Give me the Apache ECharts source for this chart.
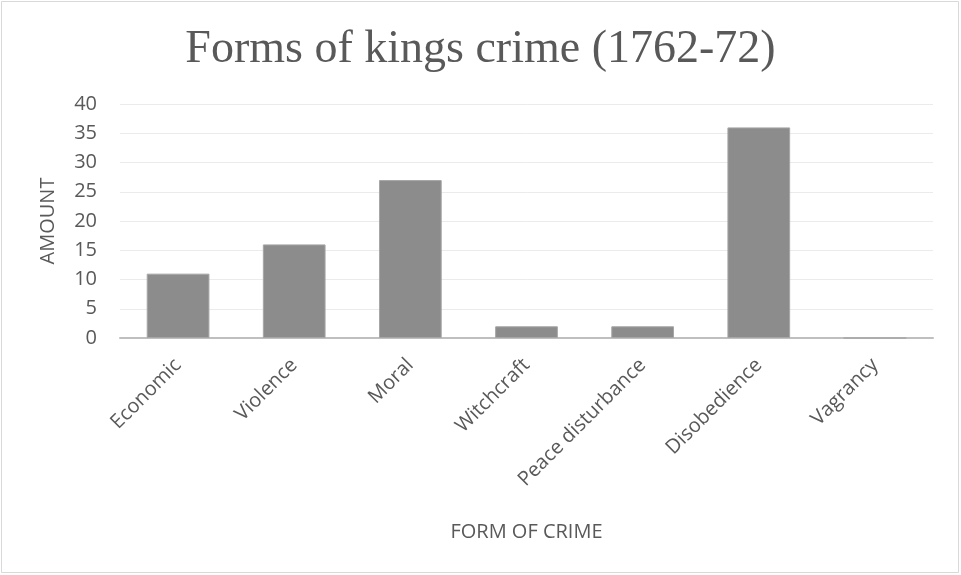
<!DOCTYPE html>
<html><head><meta charset="utf-8">
<script src="https://cdn.jsdelivr.net/npm/echarts@6/dist/echarts.min.js"></script>
<style>html,body{margin:0;padding:0;background:#fff}#c{width:961px;height:575px}</style>
</head><body><div id="c"></div>
<script>
const categories = ["Economic","Violence","Moral","Witchcraft","Peace disturbance","Disobedience","Vagrancy"];
const amounts = [11,16,27,2,2,36,0];
const yTicks = [0,5,10,15,20,25,30,35,40];
const chart = echarts.init(document.getElementById('c'));
chart.setOption({
  animation:false,
  backgroundColor:'#fff',
  graphic:[{type:'rect',shape:{x:1.5,y:1.5,width:957,height:571},style:{fill:'none',stroke:'#d9d9d9',lineWidth:1}}],
  title:{text:'Forms of kings crime (1762-72)',left:'center',top:22,
    textStyle:{fontFamily:'Liberation Serif',fontWeight:'normal',fontSize:46,color:'#595959'}},
  grid:{left:120,right:28,top:104,bottom:237},
  xAxis:{type:'category',data:categories,
    axisLine:{lineStyle:{color:'#bfbfbf',width:2}},axisTick:{show:false},
    axisLabel:{rotate:45,fontFamily:'Open Sans',fontSize:20,color:'#595959',margin:24,interval:0},
    name:'FORM OF CRIME',nameLocation:'middle',nameGap:184,
    nameTextStyle:{fontFamily:'Open Sans',fontSize:20,color:'#595959'}},
  yAxis:{type:'value',min:0,max:40,interval:5,
    axisLine:{show:false},axisTick:{show:false},
    splitLine:{lineStyle:{color:'#ebebeb',width:1}},
    axisLabel:{fontFamily:'Open Sans',fontSize:20,color:'#595959',margin:23,
      formatter:v=>yTicks.includes(v)?String(v):''},
    name:'AMOUNT',nameLocation:'middle',nameGap:62,
    nameTextStyle:{fontFamily:'Open Sans',fontSize:20,color:'#595959'}},
  series:[{type:'bar',data:amounts,barCategoryGap:'46%',
    itemStyle:{color:'#8c8c8c',borderColor:'#a6a6a6',borderWidth:1}}]
});
</script></body></html>
